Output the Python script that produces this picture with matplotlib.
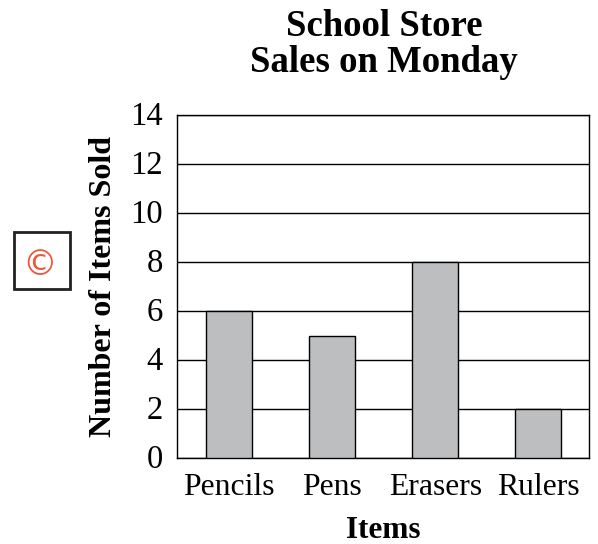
import matplotlib
matplotlib.use('Agg')
import matplotlib.pyplot as plt
from matplotlib.patches import Rectangle
from matplotlib.transforms import ScaledTranslation

items = ['Pencils', 'Pens', 'Erasers', 'Rulers']
sold = [6, 5, 8, 2]
yticks = [0, 2, 4, 6, 8, 10, 12, 14]

plt.rcParams['font.family'] = ['Liberation Serif', 'DejaVu Serif']
plt.rcParams['ytick.alignment'] = 'center'

W, H = 598, 544
fig = plt.figure(figsize=(W / 100, H / 100), dpi=100)
ax = fig.add_axes([177 / W, 1 - 458 / H, (589 - 177) / W, (458 - 115) / H])

ax.bar(range(len(items)), sold, width=0.445, color='#bcbec0', edgecolor='black', linewidth=1, zorder=3)
ax.set_xlim(-0.507, 3.493)
ax.set_ylim(0, 14)
ax.set_yticks(yticks)
ax.set_xticks(range(len(items)))
ax.set_xticklabels(items)
ax.tick_params(axis='y', length=0, labelsize=23.5, pad=10)
ax.tick_params(axis='x', length=0, labelsize=22.8, pad=11)
ax.grid(axis='y', color='black', linewidth=1, zorder=0)
ax.set_axisbelow(True)
for s in ax.spines.values():
    s.set_linewidth(1)

# y labels sit a little lower than centred
shift = ScaledTranslation(0, -2 / 100, fig.dpi_scale_trans)
for lab in ax.get_yticklabels():
    lab.set_transform(lab.get_transform() + shift)

ax.set_xlabel('Items', fontsize=22.5, fontweight='bold', labelpad=10)
ax.set_ylabel('Number of Items Sold', fontsize=23, fontweight='bold', labelpad=9)
fig.text(384 / W, 1 - 44.5 / H, 'School Store\nSales on Monday', ha='center', va='center',
         fontsize=26.5, fontweight='bold', linespacing=1.05)

# copyright box on the left
fig.add_artist(Rectangle((14 / W, 1 - 289 / H), 56 / W, 57 / H, transform=fig.transFigure,
                         facecolor='white', edgecolor='#222222', linewidth=2))
fig.text(40 / W, 1 - 265 / H, '©', ha='center', va='center', fontsize=25,
         color='#f0563a', family=['DejaVu Sans'])

fig.savefig('out.png', dpi=100)
